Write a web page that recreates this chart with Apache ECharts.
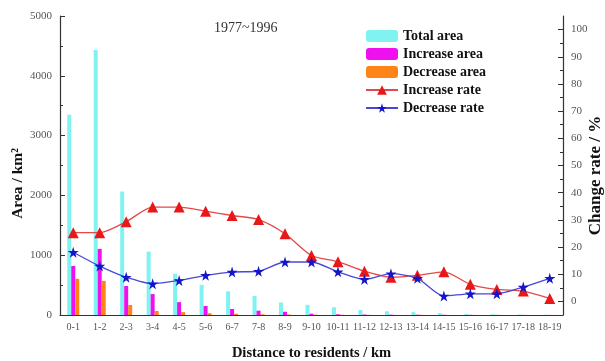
<!DOCTYPE html>
<html>
<head>
<meta charset="utf-8">
<script src="https://cdn.jsdelivr.net/npm/echarts@6/dist/echarts.min.js"></script>
<style>
  html, body { margin: 0; padding: 0; background: #fff; }
  #chart { width: 605px; height: 361px; }
</style>
</head>
<body>
<div id="chart"></div>
<script>
// Distance bands from residents (km)
const categories = ['0-1','1-2','2-3','3-4','4-5','5-6','6-7','7-8','8-9','9-10',
  '10-11','11-12','12-13','13-14','14-15','15-16','16-17','17-18','18-19'];

// Areas, km²
const totalArea    = [3350, 4430, 2065, 1060, 690, 505, 395, 320, 210, 170, 130, 85, 62, 48, 32, 18, 12, 8, 5];
const increaseArea = [820, 1105, 485, 350, 215, 150, 100, 72, 55, 22, 12, 8, 6, 5, 4, 3, 2, 2, 1];
const decreaseArea = [605, 570, 167, 67, 48, 30, 20, 12, 8, 5, 4, 3, 2, 2, 1, 1, 1, 1, 1];

// Change rates, %
const increaseRate = [25.3, 25.3, 29.3, 34.7, 34.7, 33.2, 31.6, 30.1, 24.9, 16.9,
  14.6, 11.1, 8.9, 9.6, 10.9, 6.3, 4.4, 3.8, 1.1];
const decreaseRate = [18.1, 13.0, 8.9, 6.5, 7.7, 9.6, 10.8, 11.1, 14.5, 14.5,
  10.9, 8.1, 10.2, 8.5, 2.0, 2.8, 2.8, 5.3, 8.5];

const rateMajorTicks = [0, 10, 20, 30, 40, 50, 60, 70, 80, 90, 100];
const rateMinorTicks = [5, 15, 25, 35, 45, 55, 65, 75, 85, 95];

const SERIF = '"Liberation Serif", "DejaVu Serif", serif';
const STAR = 'path://M50,0 L61,35 L98,35 L68,57 L79,91 L50,70 L21,91 L32,57 L2,35 L39,35 Z';

const chart = echarts.init(document.getElementById('chart'), null, { renderer: 'canvas' });

const axisLineStyle = { color: '#333', width: 1.2 };
const tickLabel = { fontFamily: SERIF, fontSize: 11, color: '#555' };
const axisName = { fontFamily: SERIF, fontWeight: 'bold', color: '#111' };

chart.setOption({
  animation: false,
  backgroundColor: '#fff',
  title: {
    text: '1977~1996',
    left: 214, top: 21, padding: 0,
    textStyle: { fontFamily: SERIF, fontSize: 14, fontWeight: 'normal', color: '#333' }
  },
  legend: {
    orient: 'vertical',
    left: 365, top: 29, padding: 0,
    itemWidth: 32, itemHeight: 12, itemGap: 4,
    textStyle: { fontFamily: SERIF, fontSize: 14, lineHeight: 13, fontWeight: 'bold', color: '#111' },
    data: ['Total area', 'Increase area', 'Decrease area', 'Increase rate', 'Decrease rate']
  },
  grid: { left: 60, right: 42, top: 16, bottom: 46, outerBoundsMode: 'none', containLabel: false },
  xAxis: [
    {
      type: 'category',
      data: categories,
      boundaryGap: true,
      name: 'Distance to residents / km',
      nameLocation: 'middle',
      nameGap: 31,
      nameMoveOverlap: false,
      nameTextStyle: Object.assign({ fontSize: 14.5 }, axisName),
      axisLine: { lineStyle: axisLineStyle },
      axisTick: { alignWithLabel: true, length: 5, lineStyle: { color: '#333' } },
      axisLabel: Object.assign({}, tickLabel, { interval: 0, margin: 7, fontSize: 10 }),
      splitLine: { show: false }
    },
    {
      // boundary ticks between distance bands
      type: 'category',
      data: categories,
      position: 'bottom',
      boundaryGap: true,
      axisLine: { show: false },
      axisTick: { length: 3, interval: 0, lineStyle: { color: '#333' } },
      axisLabel: { show: false },
      splitLine: { show: false }
    }
  ],
  yAxis: [
    {
      type: 'value',
      min: 0, max: 5000, interval: 1000,
      name: 'Area / km²',
      nameLocation: 'middle',
      nameGap: 34,
      nameRotate: 90,
      nameMoveOverlap: false,
      nameTextStyle: Object.assign({ fontSize: 15.5, padding: [0, 36, 0, 0] }, axisName),
      axisLine: { show: true, lineStyle: axisLineStyle },
      axisTick: { show: true, inside: true, length: 5, lineStyle: { color: '#333' } },
      minorTick: { show: true, splitNumber: 2, length: 3, lineStyle: { color: '#333' } },
      axisLabel: Object.assign({ margin: 8, formatter: v => String(v) }, tickLabel),
      splitLine: { show: false },
      minorSplitLine: { show: false }
    },
    {
      type: 'value',
      position: 'right',
      min: -5, max: 105,
      name: 'Change rate / %',
      nameLocation: 'middle',
      nameGap: 24,
      nameRotate: 90,
      nameMoveOverlap: false,
      nameTextStyle: Object.assign({ fontSize: 17, padding: [0, 20, 0, 0] }, axisName),
      axisLine: { show: true, lineStyle: axisLineStyle },
      axisTick: { show: true, inside: true, length: 5, customValues: rateMajorTicks, lineStyle: { color: '#333' } },
      axisLabel: Object.assign({ margin: 8, customValues: rateMajorTicks }, tickLabel),
      splitLine: { show: false }
    },
    {
      // minor ticks on the rate axis
      type: 'value',
      position: 'right',
      min: -5, max: 105,
      axisLine: { show: false },
      axisTick: { show: true, inside: true, length: 3, customValues: rateMinorTicks, lineStyle: { color: '#333' } },
      axisLabel: { show: false, customValues: rateMinorTicks },
      splitLine: { show: false }
    }
  ],
  series: [
    {
      name: 'Total area', type: 'bar', data: totalArea,
      barWidth: 4, barGap: '0%',
      itemStyle: { color: '#80f2f2' }
    },
    {
      name: 'Increase area', type: 'bar', data: increaseArea,
      barWidth: 4, barGap: '0%',
      itemStyle: { color: '#ee11ee' }
    },
    {
      name: 'Decrease area', type: 'bar', data: decreaseArea,
      barWidth: 4, barGap: '0%',
      itemStyle: { color: '#ff8418' }
    },
    {
      name: 'Increase rate', type: 'line', yAxisIndex: 1, data: increaseRate,
      smooth: 0.25,
      symbol: 'triangle', symbolSize: 11,
      lineStyle: { color: '#e44848', width: 1.3 },
      itemStyle: { color: '#e81818' },
      z: 5
    },
    {
      name: 'Decrease rate', type: 'line', yAxisIndex: 1, data: decreaseRate,
      smooth: 0.25,
      symbol: STAR, symbolSize: 11,
      lineStyle: { color: '#4848d8', width: 1.3 },
      itemStyle: { color: '#1414c8' },
      z: 6
    }
  ]
});
</script>
</body>
</html>
